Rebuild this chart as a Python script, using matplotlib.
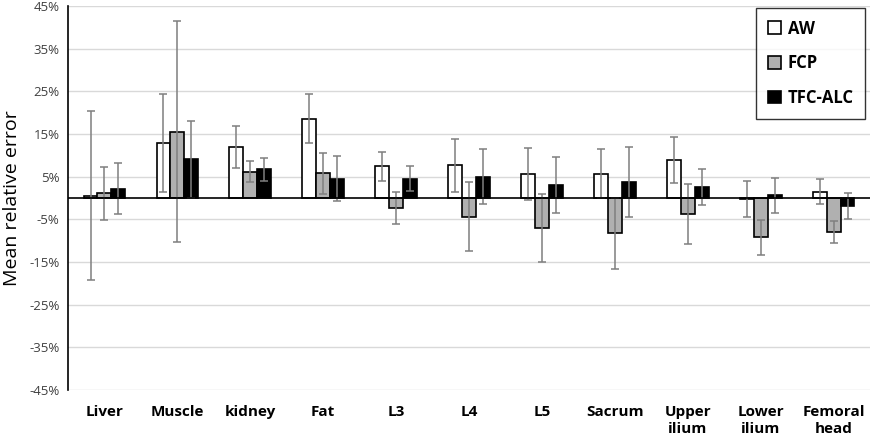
import numpy as np
import matplotlib.pyplot as plt
from matplotlib.ticker import FuncFormatter

# Data (percent)
categories = ['Liver', 'Muscle', 'kidney', 'Fat', 'L3', 'L4', 'L5', 'Sacrum',
              'Upper\nilium', 'Lower\nilium', 'Femoral\nhead']
aw = [0.5, 12.8, 12.0, 18.6, 7.4, 7.7, 5.7, 5.7, 8.9, -0.3, 1.5]
aw_err = [19.8, 11.5, 5.0, 5.8, 3.3, 6.2, 6.1, 5.7, 5.4, 4.2, 3.0]
fcp = [1.1, 15.6, 6.2, 5.8, -2.4, -4.4, -7.0, -8.3, -3.7, -9.2, -7.9]
fcp_err = [6.2, 26.0, 2.5, 4.8, 3.8, 8.1, 8.0, 8.3, 7.0, 4.1, 2.6]
tfc = [2.2, 9.1, 6.7, 4.5, 4.5, 5.0, 3.1, 3.8, 2.6, 0.6, -1.9]
tfc_err = [6.0, 9.0, 2.7, 5.3, 2.9, 6.5, 6.5, 8.2, 4.2, 4.2, 3.0]
yticks = np.arange(-45, 46, 10)

plt.rcParams['font.family'] = ['Open Sans', 'DejaVu Sans']

fig = plt.figure(figsize=(8.71, 4.43), dpi=100)
ax = fig.add_axes([0.078, 0.12, 0.921, 0.866])

x = np.arange(len(categories))
w = 0.19
err_kw = dict(ecolor='#7f7f7f', elinewidth=1.1, capsize=3, capthick=1.1)
series = [(aw, aw_err, 'white', 'AW'),
          (fcp, fcp_err, '#b0b0b0', 'FCP'),
          (tfc, tfc_err, 'black', 'TFC-ALC')]
for i, (vals, errs, col, lab) in enumerate(series):
    ax.bar(x + (i - 1) * w, vals, w, yerr=errs, color=col, edgecolor='black',
           linewidth=1.2, label=lab, error_kw=err_kw, zorder=3)

ax.axhline(0, color='black', linewidth=1.2, zorder=4)
ax.set_ylim(-45, 45)
ax.set_xlim(-0.5, len(categories) - 0.5)
ax.set_yticks(yticks)
ax.yaxis.set_major_formatter(FuncFormatter(lambda v, p: f'{v:.0f}%'))
ax.grid(axis='y', color='#d9d9d9', linewidth=1, zorder=0)
ax.set_axisbelow(True)

for s in ['top', 'right', 'bottom']:
    ax.spines[s].set_visible(False)
ax.spines['left'].set_linewidth(1.2)
ax.tick_params(axis='y', length=0, labelsize=9.5, labelcolor='#404040', pad=6)
ax.tick_params(axis='x', length=0, pad=11)
ax.set_xticks(x)
ax.set_xticklabels(categories, fontsize=11, fontweight='bold', va='top',
                   linespacing=1.3)
ax.set_ylabel('Mean relative error', fontsize=14, labelpad=6)

leg = ax.legend(loc='upper right', bbox_to_anchor=(0.996, 1.0), frameon=True,
                fancybox=False, edgecolor='black', prop={'weight': 'bold', 'size': 12},
                handlelength=0.8, handleheight=0.8, handletextpad=0.4,
                labelspacing=1.0, borderpad=0.7, borderaxespad=0.1)
leg.get_frame().set_linewidth(1.0)

fig.savefig('out.png', dpi=100)
